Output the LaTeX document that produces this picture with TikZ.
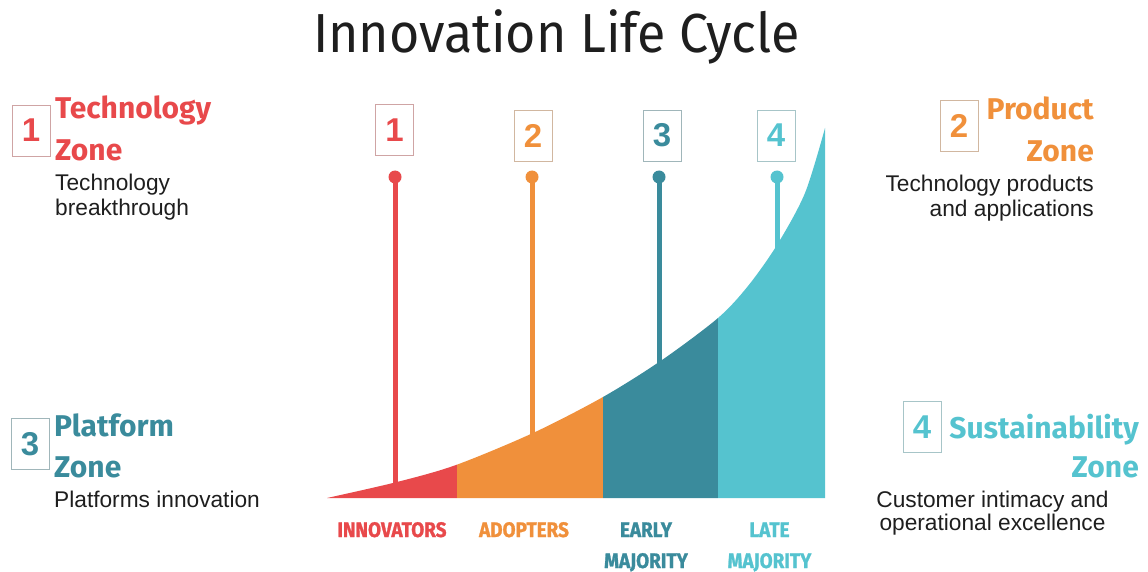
\documentclass[tikz,border=0pt]{standalone}
\usepackage{fontspec}
\setmainfont{Liberation Sans}
\newfontfamily\fira{Fira Sans}
\newfontfamily\firatitle{Fira Sans}[FakeStretch=0.945]
\newfontfamily\firacond{Fira Sans}[FakeStretch=0.9, FakeBold=1.2]
\definecolor{cred}{HTML}{E8494B}
\definecolor{corange}{HTML}{F0903B}
\definecolor{cteal}{HTML}{3A8B9C}
\definecolor{clight}{HTML}{55C3CF}
\definecolor{ctext}{HTML}{1E1E1E}
\tikzset{
  numbox/.style={draw=#1!45!gray!60, line width=0.8pt, minimum width=38pt, minimum height=51pt,
    inner sep=0pt, text=#1, font=\bfseries\fontsize{33}{36}\selectfont},
  zonehead/.style={text=#1, font=\fira\bfseries\fontsize{30}{32}\selectfont, inner sep=0pt},
  desc/.style={text=ctext, font=\fontsize{22.7}{25}\selectfont, inner sep=0pt},
  seglabel/.style={text=#1, font=\firacond\bfseries\fontsize{21}{24}\selectfont, inner sep=0pt},
  stem/.style={draw=#1, line width=5pt},
  dot/.style={circle, fill=#1, minimum size=13pt, inner sep=0pt}
}
\begin{document}
\begin{tikzpicture}[x=1pt,y=-1pt]
\useasboundingbox (0,0) rectangle (1148,572);
% title
\node[anchor=base, text=ctext, font=\firatitle\fontsize{55}{60}\selectfont, inner sep=0pt] (title) at (556.5,53) {Innovation Life Cycle};

% curve area
\begin{scope}
\clip (327,498) plot[smooth, tension=0.5] coordinates {(327,498) (397,482) (456,465) (533,433) (603,397) (662,360) (718,318) (748,286) (777,245) (805,193) (825,128)} -- (825,498) -- cycle;
\fill[cred] (320,100) rectangle (457,500);
\fill[corange] (457,100) rectangle (603,500);
\fill[cteal] (603,100) rectangle (718,500);
\fill[clight] (718,100) rectangle (826,500);
\end{scope}

% stems
\node[dot=cred] (d1) at (395,177) {};
\node[dot=corange] (d2) at (532,177) {};
\node[dot=cteal] (d3) at (659,177) {};
\node[dot=clight] (d4) at (777,177) {};
\coordinate (e1) at (395,486);
\coordinate (e2) at (532,436);
\coordinate (e3) at (659,365);
\coordinate (e4) at (777,248);
\draw[stem=cred] (d1.center) -- (e1);
\draw[stem=corange] (d2.center) -- (e2);
\draw[stem=cteal] (d3.center) -- (e3);
\draw[stem=clight] (d4.center) -- (e4);

% number boxes above stems
\node[numbox=cred] (n1) at (394.5,130) {1};
\node[numbox=corange] (n2) at (533,135.5) {2};
\node[numbox=cteal] (n3) at (662,135.5) {3};
\node[numbox=clight] (n4) at (776,135.5) {4};

% segment labels
\node[seglabel=cred, anchor=base] (l1) at (392,537) {INNOVATORS};
\node[seglabel=corange, anchor=base] (l2) at (524,537) {ADOPTERS};
\node[seglabel=cteal, anchor=base] (l3) at (646,537) {EARLY};
\node[seglabel=cteal, anchor=base] (l3b) at (646,568) {MAJORITY};
\node[seglabel=clight, anchor=base] (l4) at (769.5,537) {LATE};
\node[seglabel=clight, anchor=base] (l4b) at (769.5,568) {MAJORITY};

% zone 1
\node[numbox=cred] (z1) at (31,130.5) {1};
\node[zonehead=cred, anchor=base west] (h1) at (55,119) {Technology};
\node[zonehead=cred, anchor=base west] (h1b) at (55,161) {Zone};
\node[desc, anchor=base west] (t1) at (55,191) {Technology};
\node[desc, anchor=base west] (t1b) at (55,215) {breakthrough};

% zone 2
\node[numbox=corange] (z2) at (959,126) {2};
\node[zonehead=corange, anchor=base east] (h2) at (1094,120) {Product};
\node[zonehead=corange, anchor=base east] (h2b) at (1094,162) {Zone};
\node[desc, anchor=base east] (t2) at (1094,192) {Technology products};
\node[desc, anchor=base east] (t2b) at (1094,216) {and applications};

% zone 3
\node[numbox=cteal] (z3) at (30,444) {3};
\node[zonehead=cteal, anchor=base west] (h3) at (54,436) {Platform};
\node[zonehead=cteal, anchor=base west] (h3b) at (54,477) {Zone};
\node[desc, anchor=base west] (t3) at (54,507) {Platforms innovation};

% zone 4
\node[numbox=clight] (z4) at (922,427) {4};
\node[zonehead=clight, anchor=base east] (h4) at (1139,438) {Sustainability};
\node[zonehead=clight, anchor=base east] (h4b) at (1139,477) {Zone};
\node[desc, anchor=base] (t4) at (992.5,507) {Customer intimacy and};
\node[desc, anchor=base] (t4b) at (992.5,530) {operational excellence};
\end{tikzpicture}
\end{document}
